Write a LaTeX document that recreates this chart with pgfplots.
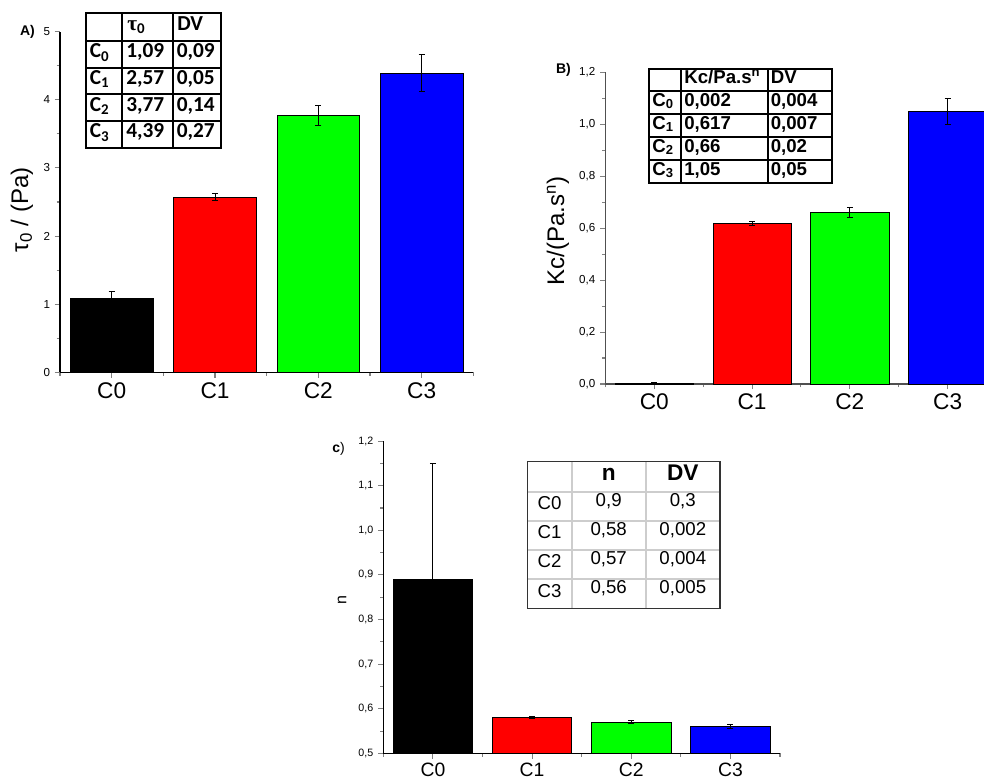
\documentclass[border=0pt]{standalone}
\usepackage{pgfplots}
\pgfplotsset{compat=1.18}
\usepackage{fontspec}
\setmainfont{Liberation Sans}
\newfontfamily\calib{Carlito}
\newfontfamily\tauf{Liberation Serif}
\definecolor{myred}{RGB}{255,0,0}
\definecolor{mygreen}{RGB}{0,255,0}
\definecolor{myblue}{RGB}{0,0,255}
\definecolor{axgray}{RGB}{80,80,80}
\definecolor{lgray}{RGB}{205,205,205}

\pgfplotsset{
 panel/.style={
  scale only axis,
  xmin=-0.5,
  axis x line*=bottom, axis y line*=left,
  axis line style={-, line width=0.9pt},
  xtick={0,1,2,3}, xticklabels={C0,C1,C2,C3},
  minor xtick={-0.5,0.5,1.5,2.5,3.5},
  minor y tick num=1,
  tick align=outside,
  major tick length=4pt, minor tick length=2.5pt,
  every tick/.append style={line width=0.8pt},
  x tick label style={font=\fontsize{17}{19}\selectfont},
  /pgf/number format/assume math mode=true,
  ybar, bar width=0.8,
 },
 mybar/.style={fill=#1, draw=black, line width=0.6pt, /pgf/bar shift=0pt,
  error bars/y dir=both, error bars/y explicit,
  error bars/error bar style={black, line width=0.75pt},
  error bars/error mark options={rotate=90, black, mark size=2.25pt, line width=0.75pt}},
}

\begin{document}
\begin{tikzpicture}
\useasboundingbox (0,0) rectangle (738pt,-586.5pt);

% ---------------- Panel A ----------------
\begin{axis}[panel,
  at={(45pt,-279.2pt)}, anchor=south west,
  width=310pt, height=255.4pt,
  xmax=3.5, ymin=0, ymax=5,
  ytick={0,1,2,3,4,5},
  y tick label style={font=\fontsize{8.7}{10}\selectfont},
  ylabel={τ\textsubscript{0} / (Pa)},
  ylabel style={font=\fontsize{18}{20}\selectfont, at={(axis description cs:-0.092,0.477)}, anchor=center},
]
\addplot[mybar=black] coordinates {(0,1.09) +- (0,0.09)};
\addplot[mybar=myred] coordinates {(1,2.57) +- (0,0.05)};
\addplot[mybar=mygreen] coordinates {(2,3.77) +- (0,0.14)};
\addplot[mybar=myblue] coordinates {(3,4.39) +- (0,0.27)};
\end{axis}

% ---------------- Panel B ----------------
\begin{axis}[panel,
  at={(454pt,-288pt)}, anchor=south west,
  width=284pt, height=233.8pt,
  xmax=3.372, ymin=0, ymax=1.2,
  axis line style={axgray},
  ytick={0,0.2,0.4,0.6,0.8,1.0,1.2},
  y tick label style={font=\fontsize{8.7}{10}\selectfont, /pgf/number format/.cd, use comma, fixed, fixed zerofill, precision=1},
  ylabel={Kc/(Pa.s\textsuperscript{n})},
  ylabel style={font=\fontsize{18}{20}\selectfont, at={(axis description cs:-0.125,0.49)}, anchor=center},
]
\addplot[mybar=black] coordinates {(0,0.002) +- (0,0.004)};
\addplot[mybar=myred] coordinates {(1,0.617) +- (0,0.007)};
\addplot[mybar=mygreen] coordinates {(2,0.66) +- (0,0.02)};
\addplot[mybar=myblue] coordinates {(3,1.05) +- (0,0.05)};
\end{axis}

% ---------------- Panel C ----------------
\begin{axis}[panel,
  at={(287.5pt,-565pt)}, anchor=south west,
  width=297.5pt, height=234.2pt,
  xmax=3.5, ymin=0.5, ymax=1.2,
  x tick label style={font=\fontsize{14.5}{16}\selectfont},
  ytick={0.5,0.6,0.7,0.8,0.9,1.0,1.1,1.2},
  y tick label style={font=\fontsize{8}{9}\selectfont, /pgf/number format/.cd, use comma, fixed, fixed zerofill, precision=1},
  ylabel={n},
  ylabel style={font=\fontsize{12}{14}\selectfont, at={(axis description cs:-0.104,0.49)}, anchor=center},
]
\addplot[mybar=black] coordinates {(0,0.89) +- (0,0.26)};
\addplot[mybar=myred] coordinates {(1,0.58) +- (0,0.002)};
\addplot[mybar=mygreen] coordinates {(2,0.57) +- (0,0.004)};
\addplot[mybar=myblue] coordinates {(3,0.56) +- (0,0.005)};
\end{axis}

% ---------------- Tables and panel labels ----------------
\begin{scope}[x=0.75pt,y=-0.75pt]
 % panel labels
 \node[font=\bfseries\fontsize{10.5}{12}\selectfont, inner sep=0] at (27.5,31.7) {A)};
 \node[font=\bfseries\fontsize{10.5}{12}\selectfont, inner sep=0] at (563.5,70.3) {B)};
 \node[font=\fontsize{10.5}{12}\selectfont, inner sep=0] at (338.5,448.5) {\textbf{c})};

 % table A
 \draw[line width=1.4pt] (86,13.3) rectangle (221,147.7);
 \foreach \x in {122,173} \draw[line width=1.4pt] (\x,13.3)--(\x,147.7);
 \foreach \y in {40.7,67.7,94.3,121} \draw[line width=1.4pt] (86,\y)--(221,\y);
 \begin{scope}[every node/.style={anchor=mid west, inner sep=0, font=\calib\bfseries\fontsize{16}{18}\selectfont}]
  \node at (127,27) {{\tauf τ}\textsubscript{0}};
  \node at (177,27) {DV};
  \node at (89.5,54.2) {C\textsubscript{0}};
  \node at (89.5,81) {C\textsubscript{1}};
  \node at (89.5,107.7) {C\textsubscript{2}};
  \node at (89.5,134.3) {C\textsubscript{3}};
  \node at (126,54.2) {1,09};
  \node at (126,81) {2,57};
  \node at (126,107.7) {3,77};
  \node at (126,134.3) {4,39};
  \node at (176.5,54.2) {0,09};
  \node at (176.5,81) {0,05};
  \node at (176.5,107.7) {0,14};
  \node at (176.5,134.3) {0,27};
 \end{scope}

 % table B
 \draw[line width=1.2pt] (649,69) rectangle (832,183);
 \foreach \x in {681,768} \draw[line width=1.2pt] (\x,69)--(\x,183);
 \foreach \y in {91,114,137,160} \draw[line width=1.2pt] (649,\y)--(832,\y);
 \begin{scope}[every node/.style={anchor=mid west, inner sep=0, font=\bfseries\fontsize{14}{16}\selectfont}]
  \node at (684,80) {Kc/Pa.s\textsuperscript{n}};
  \node at (770.5,80) {DV};
  \node at (652,102.5) {C\textsubscript{0}};
  \node at (652,125.5) {C\textsubscript{1}};
  \node at (652,148.5) {C\textsubscript{2}};
  \node at (652,171.5) {C\textsubscript{3}};
  \node at (684,102.5) {0,002};
  \node at (684,125.5) {0,617};
  \node at (684,148.5) {0,66};
  \node at (684,171.5) {1,05};
  \node at (770.5,102.5) {0,004};
  \node at (770.5,125.5) {0,007};
  \node at (770.5,148.5) {0,02};
  \node at (770.5,171.5) {0,05};
 \end{scope}

 % table C
 \foreach \x in {571.7,645.7} \draw[lgray, line width=1.3pt] (\x,461.7)--(\x,608.3);
 \foreach \y in {491.7,520.7,550,578.7} \draw[lgray, line width=1.3pt] (527.3,\y)--(720,\y);
 \draw[black!80, line width=1.1pt] (527.3,461.7) rectangle (720,608.3);
 \begin{scope}[every node/.style={anchor=mid, inner sep=0, font=\fontsize{14}{16}\selectfont}]
  \node[font=\bfseries\fontsize{17}{19}\selectfont] at (608.7,476.7) {n};
  \node[font=\bfseries\fontsize{17}{19}\selectfont] at (682.8,476.7) {DV};
  \node at (549.5,506.2) {C0};
  \node at (549.5,535.3) {C1};
  \node at (549.5,564.3) {C2};
  \node at (549.5,593.5) {C3};
  \node at (608.7,502.7) {0,9};
  \node at (608.7,531.8) {0,58};
  \node at (608.7,560.8) {0,57};
  \node at (608.7,590) {0,56};
  \node at (682.8,502.7) {0,3};
  \node at (682.8,531.8) {0,002};
  \node at (682.8,560.8) {0,004};
  \node at (682.8,590) {0,005};
 \end{scope}
\end{scope}
\end{tikzpicture}
\end{document}
